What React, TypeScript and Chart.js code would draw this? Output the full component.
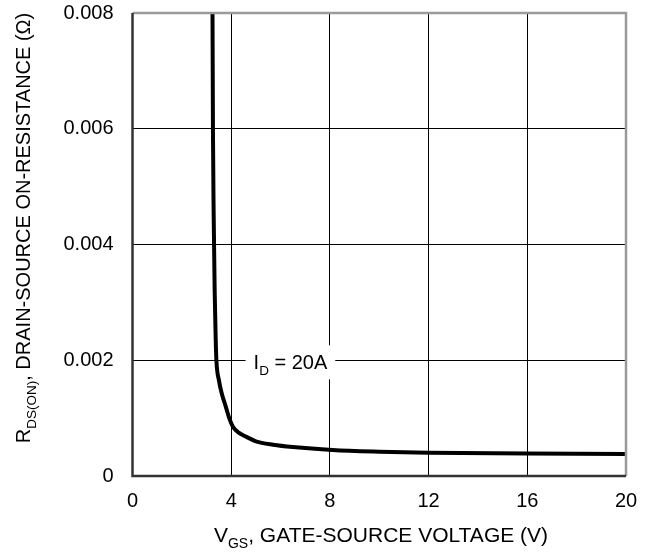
import React, { useEffect, useRef } from "react";
import { Chart, registerables } from "chart.js";

Chart.register(...registerables);

const vgs = [3.24, 3.26, 3.29, 3.33, 3.37, 3.4, 3.5, 3.62, 3.78, 3.92, 4.07, 4.3, 4.6, 5.0, 5.7, 6.5, 8.1, 10.0, 12.0, 16.0, 20.0];
const rds = [0.0083, 0.006, 0.0045, 0.0032, 0.0024, 0.002, 0.00166, 0.00142, 0.0012, 0.001, 0.00085, 0.00075, 0.00068, 0.0006, 0.00054, 0.0005, 0.00045, 0.00042, 0.0004, 0.00039, 0.00038];
const xTicks = [0, 4, 8, 12, 16, 20];
const yTicks = [0, 0.002, 0.004, 0.006, 0.008];
const annotation = { x: 6.4, y: 0.002, main: "I", sub: "D", rest: " = 20A" };

const FONT = "'Liberation Sans', Arial, sans-serif";

const overlay = {
  id: "overlay",
  afterDraw(chart: any) {
    const ctx = chart.ctx;
    const a = chart.chartArea;
    const xs = chart.scales.x;
    const ys = chart.scales.y;
    ctx.save();
    // top & right border (gray)
    ctx.strokeStyle = "#9a9a9a";
    ctx.lineWidth = 2.5;
    ctx.beginPath();
    ctx.moveTo(a.left, a.top);
    ctx.lineTo(a.right, a.top);
    ctx.lineTo(a.right, a.bottom);
    ctx.stroke();
    // left & bottom border (dark)
    ctx.strokeStyle = "#333";
    ctx.lineWidth = 2.5;
    ctx.beginPath();
    ctx.moveTo(a.left, a.top);
    ctx.lineTo(a.left, a.bottom);
    ctx.lineTo(a.right, a.bottom);
    ctx.stroke();

    const drawSub = (x: number, y: number, parts: [string, boolean][], big: number, small: number, measureOnly = false) => {
      let w = 0;
      for (const [t, s] of parts) {
        ctx.font = `${s ? small : big}px ${FONT}`;
        if (!measureOnly) ctx.fillText(t, x + w, s ? y + big * 0.3 : y);
        w += ctx.measureText(t).width;
      }
      return w;
    };

    ctx.fillStyle = "#000";
    ctx.textBaseline = "alphabetic";
    ctx.textAlign = "left";

    // annotation
    const ax = xs.getPixelForValue(annotation.x);
    const ay = ys.getPixelForValue(annotation.y);
    const parts: [string, boolean][] = [[annotation.main, false], [annotation.sub, true], [annotation.rest, false]];
    const aw = drawSub(0, 0, parts, 20, 13.5, true);
    ctx.fillStyle = "#fff";
    ctx.fillRect(ax - aw / 2 - 8, ay - 15, aw + 16, 34);
    ctx.fillStyle = "#000";
    drawSub(ax - aw / 2, ay + 9, parts, 20, 13.5);

    // x title
    const xt: [string, boolean][] = [["V", false], ["GS", true], [", GATE-SOURCE VOLTAGE (V)", false]];
    const xw = drawSub(0, 0, xt, 21, 14, true);
    drawSub(381 - xw / 2, 542, xt, 21, 14);

    // y title
    const yt: [string, boolean][] = [["R", false], ["DS(ON)", true], [", DRAIN-SOURCE ON-RESISTANCE (\u03A9)", false]];
    const yw = drawSub(0, 0, yt, 20, 13.5, true);
    ctx.translate(30, 228);
    ctx.rotate(-Math.PI / 2);
    drawSub(-yw / 2, 0, yt, 20, 13.5);
    ctx.restore();
  },
};

export default function App() {
  const ref = useRef<HTMLCanvasElement>(null);
  useEffect(() => {
    document.body.style.margin = "0";
    const chart = new Chart(ref.current!, {
      type: "line",
      data: {
        datasets: [
          {
            data: vgs.map((v, i) => ({ x: v, y: rds[i] })),
            borderColor: "#000",
            borderWidth: 4,
            pointRadius: 0,
            cubicInterpolationMode: "monotone",
            fill: false,
          },
        ],
      },
      options: {
        animation: false,
        responsive: false,
        devicePixelRatio: 1,
        layout: { padding: { top: 13, right: 30, left: 0, bottom: 0 } },
        plugins: { legend: { display: false }, tooltip: { enabled: false } },
        scales: {
          x: {
            type: "linear",
            min: 0,
            max: 20,
            afterBuildTicks: (s: any) => { s.ticks = xTicks.map((v) => ({ value: v })); },
            afterFit: (s: any) => { s.height = 78; s.paddingLeft = 0; s.paddingRight = 0; },
            grid: { color: "#000", lineWidth: 1, drawTicks: false },
            border: { display: false },
            ticks: { color: "#000", font: { family: FONT, size: 20 }, padding: 13, maxRotation: 0 },
          },
          y: {
            type: "linear",
            min: 0,
            max: 0.008,
            afterBuildTicks: (s: any) => { s.ticks = yTicks.map((v) => ({ value: v })); },
            afterFit: (s: any) => { s.width = 132.5; s.paddingTop = 0; s.paddingBottom = 0; },
            grid: { color: "#000", lineWidth: 1, drawTicks: false },
            border: { display: false },
            ticks: {
              color: "#000",
              font: { family: FONT, size: 20 },
              padding: 19,
              callback: (v: any) => (v === 0 ? "0" : Number(v).toFixed(3)),
            },
          },
        },
      } as any,
      plugins: [overlay],
    });
    return () => chart.destroy();
  }, []);
  return (
    <div style={{ width: 656, height: 554 }}>
      <canvas ref={ref} width={656} height={554} style={{ display: "block" }} />
    </div>
  );
}
